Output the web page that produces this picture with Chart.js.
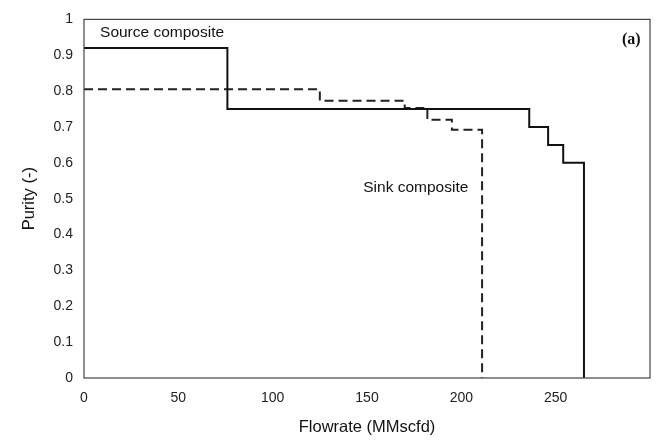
<!DOCTYPE html>
<html>
<head>
<meta charset="utf-8">
<script src="https://cdn.jsdelivr.net/npm/chart.js@4/dist/chart.umd.min.js"></script>
<style>
    html, body { margin: 0; padding: 0; background: #fff; }
    #wrap { width: 660px; height: 441px; }
</style>
</head>
<body>
<div id="wrap"><canvas id="purityChart" width="660" height="441"></canvas></div>
<script>
// composite curves
const sourceFlow = [0, 76, 236, 246, 254, 265];
const sourcePurity = [0.92, 0.75, 0.70, 0.65, 0.60, 0];
const sinkFlow = [0, 125, 170, 182, 195, 211];
const sinkPurity = [0.805, 0.773, 0.753, 0.72, 0.692, 0];

const xTicks = [0, 50, 100, 150, 200, 250];
const yTicks = [0, 0.1, 0.2, 0.3, 0.4, 0.5, 0.6, 0.7, 0.8, 0.9, 1];

const sans = '"Liberation Sans", Arial, sans-serif';

const labels = [
    { text: 'Source composite', x: 8.5, y: 0.962, font: '15.5px ' + sans, align: 'left' },
    { text: 'Sink composite', x: 148, y: 0.53, font: '15.5px ' + sans, align: 'left' },
    { text: '(a)', x: 295, y: 0.943, font: 'bold 16px "Liberation Serif", "Times New Roman", serif', align: 'right' }
];

function toPoints(xs, ys) {
    return xs.map((x, i) => ({ x: x, y: ys[i] }));
}

// frame round the plot area plus the in-plot labels
const framePlugin = {
    id: 'frame',
    afterDatasetsDraw(chart) {
        const { ctx, chartArea, scales } = chart;
        ctx.save();
        ctx.strokeStyle = '#444';
        ctx.lineWidth = 1.2;
        ctx.strokeRect(chartArea.left, chartArea.top, chartArea.width, chartArea.height);
        ctx.fillStyle = '#111';
        ctx.textBaseline = 'middle';
        labels.forEach(l => {
            ctx.font = l.font;
            ctx.textAlign = l.align;
            ctx.fillText(l.text, scales.x.getPixelForValue(l.x), scales.y.getPixelForValue(l.y));
        });
        ctx.restore();
    }
};

const tickFont = { family: sans, size: 14 };
const titleFont = { family: sans, size: 16.5 };

new Chart(document.getElementById('purityChart'), {
    type: 'line',
    data: {
        datasets: [{
            label: 'Source composite',
            data: toPoints(sourceFlow, sourcePurity),
            borderColor: '#111',
            borderWidth: 2,
            stepped: 'before',
            pointRadius: 0,
            fill: false
        }, {
            label: 'Sink composite',
            data: toPoints(sinkFlow, sinkPurity),
            borderColor: '#222',
            borderWidth: 2,
            borderDash: [9, 5],
            stepped: 'before',
            pointRadius: 0,
            fill: false
        }]
    },
    options: {
        responsive: false,
        animation: false,
        layout: { padding: { top: 14, right: 10, left: 16, bottom: 0 } },
        plugins: {
            legend: { display: false },
            tooltip: { enabled: false }
        },
        scales: {
            x: {
                type: 'linear',
                min: 0,
                max: 300,
                grid: { display: false, drawTicks: false },
                border: { display: false },
                afterBuildTicks: axis => { axis.ticks = xTicks.map(v => ({ value: v })); },
                ticks: { color: '#222', font: tickFont, padding: 12, maxRotation: 0 },
                title: {
                    display: true,
                    text: 'Flowrate (MMscfd)',
                    color: '#111',
                    font: titleFont,
                    padding: { top: 4 }
                },
                afterFit: axis => { axis.height = 63; }
            },
            y: {
                min: 0,
                max: 1,
                grid: { display: false, drawTicks: false },
                border: { display: false },
                afterBuildTicks: axis => { axis.ticks = yTicks.map(v => ({ value: v })); },
                ticks: {
                    color: '#222',
                    font: tickFont,
                    padding: 11,
                    callback: v => (v === 0 || v === 1) ? String(v) : v.toFixed(1)
                },
                title: {
                    display: true,
                    text: 'Purity (-)',
                    color: '#111',
                    font: titleFont,
                    padding: { bottom: 6 }
                },
                afterFit: axis => { axis.width = 68; }
            }
        }
    },
    plugins: [framePlugin]
});
</script>
</body>
</html>
